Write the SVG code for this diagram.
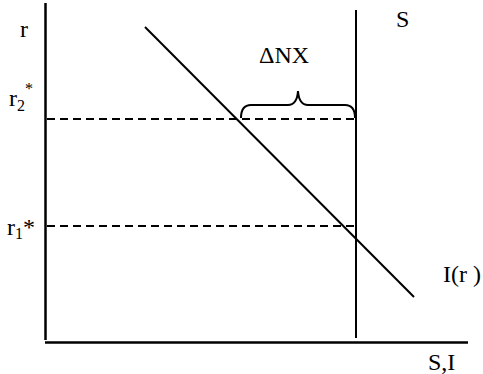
<svg xmlns="http://www.w3.org/2000/svg" width="483" height="374" viewBox="0 0 483 374">
<style>
.ax{stroke:#000;stroke-width:2.5;fill:none}
.ln{stroke:#000;stroke-width:2;fill:none}
.dash{stroke:#000;stroke-width:2;stroke-dasharray:8,5;fill:none}
</style>
<rect width="483" height="374" fill="#fff"/>
<g id="axes">
<line class="ax" x1="45.5" y1="3" x2="45.5" y2="340"/>
<line class="ax" x1="45" y1="342.5" x2="468" y2="342.5"/>
</g>
<g id="connectors">
<line class="ln" x1="356" y1="10" x2="356" y2="338"/>
<line class="ln" x1="145" y1="27" x2="414" y2="297"/>
<line class="dash" x1="47" y1="119" x2="354" y2="119"/>
<line class="dash" x1="47" y1="226" x2="354" y2="226"/>
<path class="ln" d="M241,118 Q241,105 251,105 L288,105 Q297,105 298,91 Q299,105 308,105 L345,105 Q355,105 355,118"/>
</g>
<g id="labels">
<text font-family="Liberation Serif" font-size="24" x="20" y="37">r</text>
<text font-family="Liberation Serif" font-size="24" x="9" y="106">r<tspan font-size="16" dy="5">2</tspan><tspan font-size="16" dy="-17">*</tspan></text>
<text font-family="Liberation Serif" font-size="24" x="7" y="235">r<tspan font-size="16" dy="4">1</tspan><tspan dy="-4">*</tspan></text>
<text font-family="Liberation Serif" font-size="24" x="396" y="27">S</text>
<text font-family="Liberation Serif" font-size="24" x="259" y="63">ΔNX</text>
<text font-family="Liberation Serif" font-size="24" x="443" y="282">I(r )</text>
<text font-family="Liberation Serif" font-size="24" x="428" y="370">S,I</text>
</g>
</svg>
